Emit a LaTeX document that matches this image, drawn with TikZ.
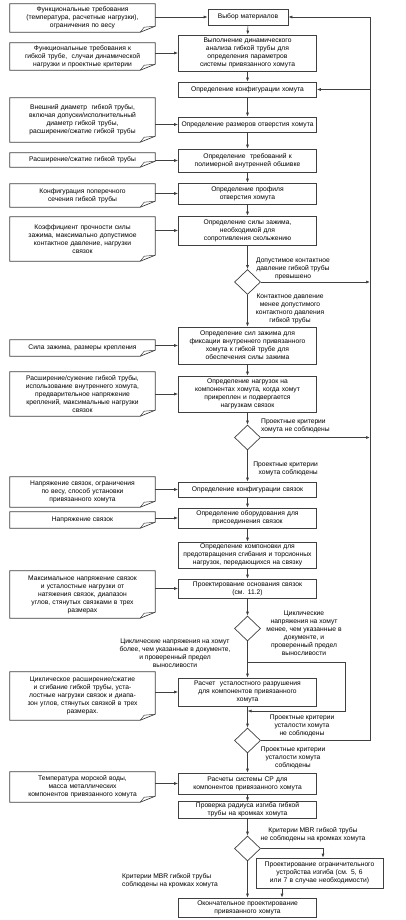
\documentclass[tikz,border=0pt]{standalone}
\usepackage{fontspec}
\setmainfont{Liberation Sans}
\usetikzlibrary{shapes.geometric,arrows.meta}
\newcommand\dfont{\fontsize{6.7}{8}\selectfont}
\definecolor{lc}{gray}{0.25}
\tikzset{
  mbox/.style={draw=lc, line width=0.7pt, minimum width=138pt, text width=137pt, align=center, inner sep=0pt, font=\dfont},
  nbox/.style={minimum width=145pt, text width=143pt, align=center, inner sep=0pt, font=\dfont},
  dia/.style={draw=lc, diamond, minimum width=26pt, minimum height=25pt, inner sep=0pt, line width=0.7pt},
  lbl/.style={font=\dfont, inner sep=0pt, align=center},
  arr/.style={draw=lc, line width=0.7pt, -{Latex[length=4pt,width=3pt]}},
  ln/.style={draw=lc, line width=0.7pt}
}
\begin{document}
\begin{tikzpicture}[x=1pt,y=-1pt]
\useasboundingbox[fill=white] (0,0) rectangle (406,920);
% main column
\node[mbox, minimum width=80pt, text width=78pt, minimum height=16pt] (B1) at (248,17) {Выбор материалов};
\node[mbox, minimum height=36pt] (B2) at (247.5,53) {Выполнение динамического\\анализа гибкой трубы для\\определения параметров\\системы привязанного хомута};
\node[mbox, minimum height=15pt] (B3) at (247.5,89.5) {Определение конфигурации хомута};
\node[mbox, minimum height=15pt] (B4) at (247.5,124.5) {Определение размеров отверстия хомута};
\node[mbox, minimum height=23pt] (B5) at (247.5,160.5) {Определение\ \ требований к\\полимерной внутренней обшивке};
\node[mbox, minimum height=21pt] (B6) at (247.5,193.5) {Определение профиля\\отверстия хомута};
\node[mbox, minimum height=29pt] (B7) at (247.5,230.5) {Определение силы зажима,\\необходимой для\\сопротивления скольжению};
\node[dia] (D1) at (247.5,282) {};
\node[mbox, minimum height=37pt] (B8) at (247.5,345.5) {Определение сил зажима для\\фиксации внутреннего привязанного\\хомута к гибкой трубе для\\обеспечения силы зажима};
\node[mbox, minimum height=36pt] (B9) at (247.5,394) {Определение нагрузок на\\компонентах хомута, когда хомут\\прикреплен и подвергается\\нагрузкам связок};
\node[dia] (D2) at (247.5,437.5) {};
\node[mbox, minimum height=15pt] (B10) at (247.5,489.5) {Определение конфигурации связок};
\node[mbox, minimum height=20pt] (B11) at (247.5,518) {Определение оборудования для\\присоединения связок};
\node[mbox, minimum height=26pt] (B12) at (247.5,555) {Определение компоновки для\\предотвращения сгибания и торсионных\\нагрузок, передающихся на связку};
\node[mbox, minimum height=19pt] (B13) at (247.5,588.5) {Проектирование основания связок\\(см. 11.2)};
\node[dia] (D3) at (247.5,628.5) {};
\node[mbox, minimum height=28pt] (B14) at (247.5,692) {Расчет\ \ усталостного разрушения\\для компонентов привязанного\\хомута};
\node[dia] (D4) at (247.5,740.5) {};
\node[mbox, minimum height=21pt] (B15) at (247.5,783.5) {Расчеты системы CP для\\компонентов привязанного хомута};
\node[mbox, minimum height=16.5pt] (B16) at (247.5,810) {Проверка радиуса изгиба гибкой\\трубы на кромках хомута};
\node[dia] (D5) at (247.5,848.5) {};
\node[mbox, minimum width=127pt, text width=126pt, minimum height=30pt] (B17) at (319.5,873) {Проектирование ограничительного\\устройства изгиба (см. 5, 6\\или 7 в случае необходимости)};
\node[mbox, minimum height=19pt] (B18) at (247.5,907.5) {Окончательное проектирование\\привязанного хомута};
% notes
\node[nbox, minimum height=28pt] (N1) at (82.5,18) {Функциональные требования\\(температура, расчетные нагрузки),\\ограничения по весу};
\node[nbox, minimum height=27pt] (N2) at (82.5,56.5) {Функциональные требования к\\гибкой трубе,\ \ случаи динамической\\нагрузки и проектные критерии};
\node[nbox, minimum height=44pt] (N3) at (82.5,120) {Внешний диаметр\ \ гибкой трубы,\\включая допуски/исполнительный\\диаметр гибкой трубы,\\расширение/сжатие гибкой трубы};
\node[nbox, minimum height=14pt] (N4) at (82.5,160) {Расширение/сжатие гибкой трубы};
\node[nbox, minimum height=23pt] (N5) at (82.5,195.5) {Конфигурация поперечного\\сечения гибкой трубы};
\node[nbox, minimum height=44pt] (N6) at (82.5,239) {Коэффициент прочности силы\\зажима, максимально допустимое\\контактное давление, нагрузки\\связок};
\node[nbox, minimum height=16pt] (N7) at (82.5,348) {Сила зажима, размеры крепления};
\node[nbox, minimum height=44pt] (N8) at (82.5,394) {Расширение/сужение гибкой трубы,\\использование внутреннего хомута,\\предварительное напряжение\\креплений, максимальные нагрузки\\связок};
\node[nbox, minimum height=30pt] (N9) at (82.5,492) {Напряжение связок, ограничения\\по весу, способ установки\\привязанного хомута};
\node[nbox, minimum height=16pt] (N10) at (82.5,520) {Напряжение связок};
\node[nbox, minimum height=47pt] (N11) at (82.5,594.5) {Максимальное напряжение связок\\и усталостные нагрузки от\\натяжения связок, диапазон\\углов, стянутых связками в трех\\размерах};
\node[nbox, minimum height=48pt] (N12) at (82.5,696) {Циклическое расширение/сжатие\\и сгибание гибкой трубы, уста-\\лостные нагрузки связок и диапа-\\зон углов, стянутых связкой в трех\\размерах.};
\node[nbox, minimum height=30pt] (N13) at (82.5,787) {Температура морской воды,\\масса металлических\\компонентов привязанного хомута};
\foreach \n in {N1,N2,N3,N4,N5,N6,N7,N8,N9,N10,N11,N12,N13}{
  \draw[ln] (\n.north west) -- (\n.north east) -- ([yshift=6pt]\n.south east) -- ([xshift=-15pt]\n.south east) -- (\n.south west) -- cycle;
  \draw[ln, line width=0.5pt] ([xshift=-15pt]\n.south east) -- ([xshift=-11pt,yshift=5pt]\n.south east) -- ([yshift=6pt]\n.south east);
}
% labels
\node[lbl] (L1) at (293,269) {Допустимое контактное\\давление гибкой трубы\\превышено};
\node[lbl] (L2) at (290,309) {Контактное давление\\менее допустимого\\контактного давления\\гибкой трубы};
\node[lbl, align=left, anchor=west] (L3) at (261,426) {Проектные критерии\\хомута не соблюдены};
\node[lbl, align=right, anchor=east] (L4) at (318,469) {Проектные критерии\\хомута соблюдены};
\node[lbl] (L5) at (304,633) {Циклические\\напряжения на хомут\\менее, чем указанные в\\документе, и\\проверенный предел\\выносливости};
\node[lbl] (L6) at (175,653) {Циклические напряжения на хомут\\более, чем указанные в документе,\\и проверенный предел\\выносливости};
\node[lbl] (L7) at (302,726) {Проектные критерии\\усталости хомута\\не соблюдены};
\node[lbl] (L8) at (293,758) {Проектные критерии\\усталости хомута\\соблюдены};
\node[lbl] (L9) at (313,835) {Критерии MBR гибкой трубы\\не соблюдены на кромках хомута};
\node[lbl, align=left, anchor=west] (L10) at (122,881) {Критерии MBR гибкой трубы\\соблюдены на кромках хомута};
% main flow
\draw[arr] (B1) -- (B2);
\draw[arr] (B2) -- (B3);
\draw[arr] (B3) -- (B4);
\draw[arr] (B4) -- (B5);
\draw[arr] (B5) -- (B6);
\draw[arr] (B6) -- (B7);
\draw[arr] (B7) -- (D1);
\draw[arr] (D1) -- (B8);
\draw[arr] (B8) -- (B9);
\draw[arr] (B9) -- (D2);
\draw[arr] (D2) -- (B10);
\draw[arr] (B10) -- (B11);
\draw[arr] (B11) -- (B12);
\draw[arr] (B12) -- (B13);
\draw[arr] (B13) -- (D3);
\draw[arr] (D3) -- (B14);
\draw[arr] (B14) -- (D4);
\draw[arr] (D4) -- (B15);
\draw[arr] (B15) -- (B16);
\draw[arr] (B16) -- (D5);
\draw[arr] (D5) -- (B18);
\draw[arr] (D5.east) -| ([xshift=3.5pt]B17.north);
\draw[arr] ([xshift=-37.5pt]B17.south) -- ([xshift=-37.5pt]B17.south |- B18.north);
% bypass of fatigue calculation
\coordinate (br) at (247.5,662);
\coordinate (mj) at (247.5,711);
\draw[arr] (br) -- ++(97.5,0) |- (mj);
% feedback line
\coordinate (fbT) at (370,17);
\coordinate (fbB) at (370,740.5);
\draw[arr] (D4.east) -- (fbB) -- (fbT) -- (B1.east);
\draw[arr] (fbB |- B3) -- (B3.east);
\draw[arr] (D1.east) -- (fbB |- D1);
\draw[arr] (D2.east) -- (fbB |- D2);
% inputs
\foreach \n/\b in {N1/B1,N2/B2,N3/B4,N4/B5,N5/B6,N6/B7,N7/B8,N8/B9,N9/B10,N10/B11,N11/B13,N12/B14,N13/B15}{
  \draw[arr] (\n.east |- \b.west) -- (\b.west);
}
\end{tikzpicture}
\end{document}
